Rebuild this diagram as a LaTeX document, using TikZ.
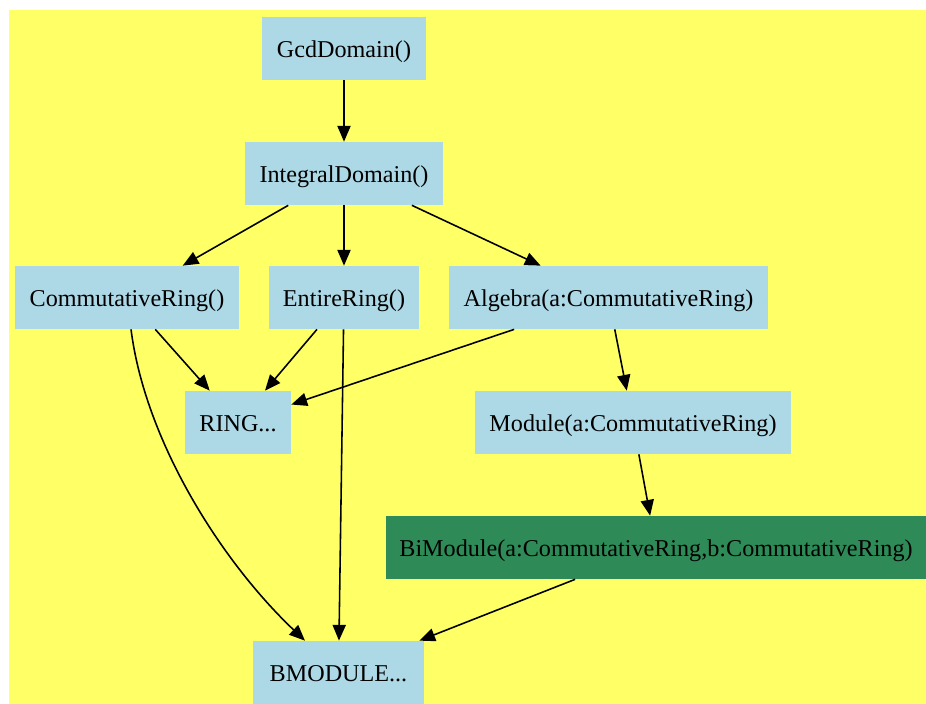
\documentclass[tikz,border=0pt]{standalone}
\usepackage{fontspec}
\setmainfont{Liberation Serif}
\usetikzlibrary{arrows.meta}
\definecolor{bgyellow}{RGB}{255,255,102}
\definecolor{boxblue}{RGB}{173,216,230}
\definecolor{boxgreen}{RGB}{46,139,87}

\begin{document}
\begin{tikzpicture}[x=0.5714pt,y=-0.5714pt,
    box/.style={fill=boxblue,minimum height=36pt,inner sep=0pt,text height=11pt,text depth=0.6pt,font=\fontsize{13.8}{16}\selectfont},
    dep/.style={-{Triangle[length=9pt,width=7.5pt]},line width=0.9pt}]
  \useasboundingbox (0,0) rectangle (926,704);
  \fill[bgyellow] (9,10) rectangle (926,704);
  \node[box,minimum width=93.7pt] (gcd) at (344,48.5) {GcdDomain()};
  \node[box,minimum width=113.1pt] (intdom) at (344,173.5) {IntegralDomain()};
  \node[box,minimum width=128pt] (comring) at (127,297.5) {CommutativeRing()};
  \node[box,minimum width=85.7pt] (entring) at (344,297.5) {EntireRing()};
  \node[box,minimum width=182.3pt] (algebra) at (608.5,297.5) {Algebra(a:CommutativeRing)};
  \node[box,minimum width=60.6pt] (ring) at (238,422.5) {RING...};
  \node[box,minimum width=180.6pt] (module) at (633,422.5) {Module(a:CommutativeRing)};
  \node[box,fill=boxgreen,minimum width=308.6pt] (bimodule) at (656,547.5) {BiModule(a:CommutativeRing,b:CommutativeRing)};
  \node[box,minimum width=97.7pt] (bmodule) at (338.5,672.5) {BMODULE...};
  \draw[dep] (gcd) -- (intdom);
  \draw[dep] (intdom) -- (comring);
  \draw[dep] (intdom) -- (entring);
  \draw[dep] (intdom) -- (algebra);
  \draw[dep] (comring) -- (ring);
  \draw[dep] (entring) -- (ring);
  \draw[dep] (algebra) -- (ring);
  \draw[dep] (entring) -- (bmodule);
  \draw[dep] (comring) .. controls (145,440) and (220,560) .. (bmodule);
  \draw[dep] (algebra) -- (module);
  \draw[dep] (module) -- (bimodule);
  \draw[dep] (bimodule) -- (bmodule);
\end{tikzpicture}
\end{document}
